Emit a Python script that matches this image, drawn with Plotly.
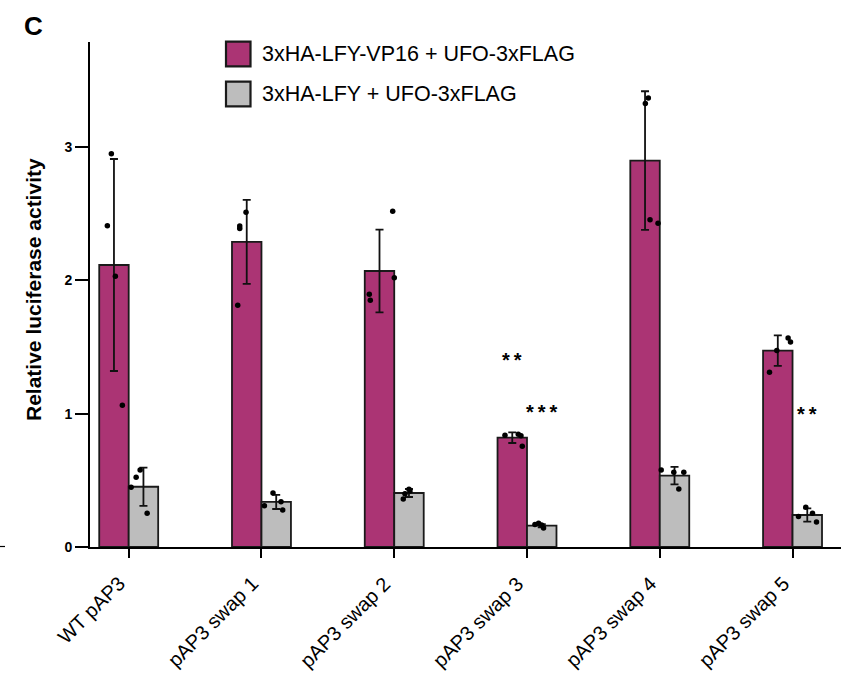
import plotly.graph_objects as go

# ---------------- data ----------------
categories = ["WT pAP3", "pAP3 swap 1", "pAP3 swap 2",
              "pAP3 swap 3", "pAP3 swap 4", "pAP3 swap 5"]
series_names = ["3xHA-LFY-VP16 + UFO-3xFLAG", "3xHA-LFY + UFO-3xFLAG"]

vp16_mean = [2.115, 2.288, 2.070, 0.820, 2.898, 1.473]
vp16_sd = [0.795, 0.315, 0.310, 0.040, 0.520, 0.114]
vp16_points = [[2.95, 2.41, 2.03, 1.063],
               [2.51, 2.408, 2.388, 1.813],
               [2.518, 2.02, 1.896, 1.85],
               [0.838, 0.845, 0.835, 0.755],
               [3.368, 3.326, 2.455, 2.428],
               [1.473, 1.31, 1.568, 1.538]]

lfy_mean = [0.452, 0.338, 0.405, 0.160, 0.535, 0.240]
lfy_sd = [0.143, 0.053, 0.030, 0.012, 0.066, 0.050]
lfy_points = [[0.448, 0.523, 0.578, 0.253],
              [0.31, 0.405, 0.34, 0.278],
              [0.433, 0.42, 0.40, 0.36],
              [0.168, 0.178, 0.165, 0.143],
              [0.578, 0.56, 0.56, 0.435],
              [0.298, 0.228, 0.253, 0.188]]

# horizontal jitter of the individual dots (pixels)
vp16_jitter = [[-2.6, -6.6, 1.4, 8.4], [-0.7, -7, -7, -9], [13.2, 14.8, -10.2, -9.2],
               [-7.3, 6, 8.7, 10], [3.3, 0.3, 5, 13], [-1, -8.3, 10.3, 12.7]]
lfy_jitter = [[-12.3, -7.3, -3.3, 3.7], [-11.8, -3.2, 4.8, 6.5], [0, 1, -4, -5.7],
              [-6.8, -3.2, -0.2, 1.8], [-13.3, -0.7, 9.3, 4.3], [-1.5, -8.8, 5.2, 9.2]]

# significance marks: (category index, series index, label, y)
sig_marks = [(3, 0, "*\u2009*", 1.40), (3, 1, "*\u2009*\u2009*", 1.01), (5, 1, "*\u2009*", 1.00)]

# ---------------- styling / layout ----------------
MAGENTA = "#AB3474"
GREY = "#BDBDBD"
FONT = "Arial, Liberation Sans, sans-serif"
W, H = 841, 677
L, R, T, B = 90, 0, 42, 130
plot_w = W - L - R
plot_h = H - T - B
x_range = [-0.2915, 5.365]
px_per_cat = plot_w / (x_range[1] - x_range[0])
bar_w = 0.222
half = bar_w / 2

def px2x(px):
    return (px - L) / plot_w

def py2y(py):
    return (H - B - py) / plot_h

xs = list(range(len(categories)))
fig = go.Figure()

for name, mean, sd, color in [(series_names[0], vp16_mean, vp16_sd, MAGENTA),
                              (series_names[1], lfy_mean, lfy_sd, GREY)]:
    fig.add_trace(go.Bar(
        x=xs, y=mean, name=name,
        marker=dict(color=color, line=dict(color="#1a1a1a", width=1.8)),
        error_y=dict(type="data", array=sd, visible=True, color="#111111",
                     thickness=1.8, width=4),
        showlegend=False,
    ))

for pts, jit, sign in [(vp16_points, vp16_jitter, -1), (lfy_points, lfy_jitter, 1)]:
    px_, py_ = [], []
    for i, (vals, js) in enumerate(zip(pts, jit)):
        for v, j in zip(vals, js):
            px_.append(i + sign * half + j / px_per_cat)
            py_.append(v)
    fig.add_trace(go.Scatter(x=px_, y=py_, mode="markers",
                             marker=dict(color="black", size=5.5),
                             showlegend=False, hoverinfo="skip"))

annotations = []
for ci, si, lab, yv in sig_marks:
    annotations.append(dict(x=ci + (-half if si == 0 else half), y=yv, xref="x", yref="y",
                            text="<b>" + lab + "</b>", showarrow=False, yanchor="middle",
                            font=dict(family=FONT, size=20, color="black")))

# category labels (rotated, top-right corner at the tick)
for i, lab in enumerate(categories):
    annotations.append(dict(x=i, y=py2y(571), xref="x", yref="paper", text=lab,
                            textangle=-45, showarrow=False, xanchor="right", yanchor="top",
                            xshift=2, borderpad=0,
                            font=dict(family=FONT, size=20, color="black")))

# panel letter
annotations.append(dict(x=px2x(33), y=py2y(26), xref="paper", yref="paper", text="<b>C</b>",
                        showarrow=False, xanchor="center", yanchor="middle",
                        font=dict(family=FONT, size=26, color="black")))
# y-axis title
annotations.append(dict(x=px2x(33), y=py2y(290), xref="paper", yref="paper",
                        text="<b>Relative luciferase activity</b>", textangle=-90,
                        showarrow=False, xanchor="center", yanchor="middle",
                        font=dict(family=FONT, size=21, color="black")))

shapes = []
# manual legend
for k, (name, color, cy) in enumerate([(series_names[0], MAGENTA, 54), (series_names[1], GREY, 94)]):
    shapes.append(dict(type="rect", xref="paper", yref="paper",
                       x0=px2x(226), x1=px2x(250.5), y0=py2y(cy + 12.3), y1=py2y(cy - 12.3),
                       fillcolor=color, line=dict(color="#1a1a1a", width=2.2)))
    annotations.append(dict(x=px2x(260), y=py2y(cy), xref="paper", yref="paper", text=name,
                            showarrow=False, xanchor="left", yanchor="middle",
                            font=dict(family=FONT, size=21.5, color="black")))
# stray tick at far left
shapes.append(dict(type="line", xref="paper", yref="paper", x0=px2x(0), x1=px2x(5),
                   y0=py2y(546.5), y1=py2y(546.5), line=dict(color="black", width=1.2)))

fig.update_layout(
    width=W, height=H,
    margin=dict(l=L, r=R, t=T, b=B, pad=0),
    paper_bgcolor="white", plot_bgcolor="white",
    barmode="group", bargap=1 - 2 * bar_w, bargroupgap=0,
    showlegend=False,
    annotations=annotations, shapes=shapes,
    font=dict(family=FONT, color="black"),
)
fig.update_xaxes(range=x_range, tickmode="array", tickvals=xs, showticklabels=False,
                 ticks="outside", ticklen=9, tickwidth=1.6, tickcolor="black",
                 showline=True, linecolor="black", linewidth=1.8, showgrid=False, zeroline=False)
fig.update_yaxes(range=[0, 3.7875], tickmode="array", tickvals=[0, 1, 2, 3],
                 ticktext=["<b>0</b>", "<b>1</b>", "<b>2</b>", "<b>3</b>"],
                 ticks="outside", ticklen=13, tickwidth=1.6, tickcolor="black",
                 showline=True, linecolor="black", linewidth=1.8, showgrid=False, zeroline=False,
                 tickfont=dict(family=FONT, size=14, color="black"))

fig.write_html("out.html", config={"displayModeBar": False},
               post_script="document.body.style.margin='0';document.body.style.padding='0';")
